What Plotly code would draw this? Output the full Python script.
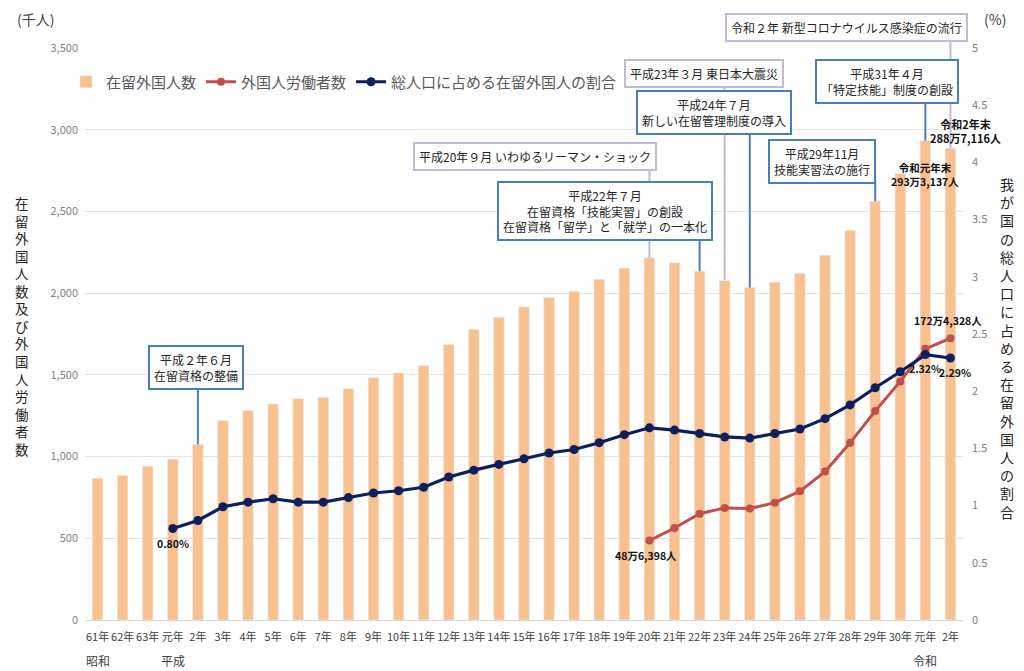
import plotly.graph_objects as go

# ---------------- data ----------------
period_labels = ["61年", "62年", "63年", "元年"] + [f"{i}年" for i in range(2, 31)] + ["元年", "2年"]
era_labels = ["昭和", "平成", "令和"]
era_index = [0, 3, 33]

residents = [867, 884, 941, 984, 1075, 1219, 1282, 1321, 1354, 1362, 1415, 1483, 1512, 1556,
             1686, 1778, 1852, 1915, 1974, 2012, 2085, 2153, 2217, 2186, 2134, 2078, 2034,
             2066, 2122, 2232, 2383, 2562, 2731, 2933, 2887]
workers = [None] * 22 + [486, 563, 650, 686, 682, 718, 788, 908, 1084, 1279, 1460, 1659, 1724]
ratio = [None] * 3 + [0.80, 0.87, 0.99, 1.03, 1.06, 1.03, 1.03, 1.07, 1.11, 1.13,
                      1.16, 1.25, 1.31, 1.36, 1.41, 1.46, 1.49, 1.55, 1.62, 1.68,
                      1.66, 1.63, 1.60, 1.59, 1.63, 1.67, 1.76, 1.88, 2.03, 2.17,
                      2.32, 2.29]

left_ticks = [0, 500, 1000, 1500, 2000, 2500, 3000, 3500]
right_ticks = [0, 0.5, 1, 1.5, 2, 2.5, 3, 3.5, 4, 4.5, 5]
right_tick_text = ["0", "0.5", "1", "1.5", "2", "2.5", "3", "3.5", "4", "4.5", "5"]

events = [
    # (text, category index, style)
    ("令和２年 新型コロナウイルス感染症の流行", 34, "lav"),
    ("平成23年３月 東日本大震災", 25, "lav"),
    ("平成31年４月<br>「特定技能」制度の創設", 33, "blue"),
    ("平成24年７月<br>新しい在留管理制度の導入", 26, "blue"),
    ("平成20年９月 いわゆるリーマン・ショック", 22, "lav"),
    ("平成22年７月<br>在留資格「技能実習」の創設<br>在留資格「留学」と「就学」の一本化", 24, "blue"),
    ("平成29年11月<br>技能実習法の施行", 31, "blue"),
    ("平成２年６月<br>在留資格の整備", 4, "blue"),
]
# box centre (px) and box bottom (px) for each event -- layout only (screen coords)
event_boxes = [(846, 27, 40), (704, 74, 88), (887, 81, 100), (714, 112, 132),
               (535, 156, 170), (605, 211, 240), (822, 161, 180), (196, 368, 388)]

# ---------------- layout geometry ----------------
OFF = 8                      # page body margin
W, H = 1024 - OFF, 671 - OFF
PL, PR, PT, PB = 84.5, 963, 48, 620   # plot area in screen px
YMAX, Y2MAX = 3500, 5


def px_x(px):
    return (px - PL) / (PR - PL)


def px_y(py):
    return (PB - py) / (PB - PT)


FONT = "Noto Sans CJK JP"
BAR = "#F9C18F"
RED = "#C0504D"
NAVY = "#0C1F5E"
BLUE = "#4A7EBB"
LAV = "#C6B8DA"
GREY = "#595959"

x = list(range(len(period_labels)))

fig = go.Figure()
fig.add_trace(go.Bar(x=x, y=residents, name="在留外国人数", marker_color=BAR,
                     width=0.42, yaxis="y"))
fig.add_trace(go.Scatter(x=x, y=workers, name="外国人労働者数", mode="lines+markers",
                         line=dict(color=RED, width=3), marker=dict(size=8, color=RED),
                         yaxis="y"))
fig.add_trace(go.Scatter(x=x, y=ratio, name="総人口に占める在留外国人の割合",
                         mode="lines+markers", line=dict(color=NAVY, width=3.2),
                         marker=dict(size=9, color=NAVY), yaxis="y2"))

annotations = []
shapes = []

# event boxes and connectors
for (text, idx, style), (cx, cy, bottom) in zip(events, event_boxes):
    col = BLUE if style == "blue" else LAV
    annotations.append(dict(text=text, x=px_x(cx), y=px_y(cy), xref="paper", yref="paper",
                            showarrow=False, font=dict(family=FONT, size=12, color="#262626"),
                            bgcolor="white", bordercolor=col, borderwidth=2, borderpad=4,
                            align="center", xanchor="center", yanchor="middle"))
    shapes.append(dict(type="line", xref="x", yref="paper", x0=idx, x1=idx,
                       y0=residents[idx] / YMAX, y1=px_y(bottom),
                       line=dict(color=col, width=2), layer="above"))

lab_font = dict(family=FONT, size=10.5, color="#111111")
# data labels
annotations += [
    dict(text="<b>0.80%</b>", x=3, y=ratio[3], xref="x", yref="y2", yshift=-15, showarrow=False,
         font=lab_font),
    dict(text="<b>48万6,398人</b>", x=22, y=workers[22], xref="x", yref="y", yshift=-15,
         xshift=-3, showarrow=False, font=lab_font),
    dict(text="<b>172万4,328人</b>", x=34, y=workers[34], xref="x", yref="y", yshift=18,
         xshift=-2, showarrow=False, font=lab_font),
    dict(text="<b>2.32%</b>", x=33, y=ratio[33], xref="x", yref="y2", yshift=-14,
         showarrow=False, font=lab_font),
    dict(text="<b>2.29%</b>", x=34, y=ratio[34], xref="x", yref="y2", yshift=-14, xshift=5,
         showarrow=False, font=lab_font),
    dict(text="<b>令和2年末<br>288万7,116人</b>", x=34, y=residents[34], xref="x", yref="y",
         yanchor="bottom", yshift=0, xshift=15, showarrow=False,
         font=dict(family=FONT, size=11, color="#111111")),
    dict(text="<b>令和元年末<br>293万3,137人</b>", x=33, y=residents[33], xref="x", yref="y",
         yanchor="top", yshift=-17, showarrow=False, font=lab_font),
]

# era labels
for lab, idx in zip(era_labels, era_index):
    annotations.append(dict(text=lab, x=idx, y=px_y(660), xref="x", yref="paper",
                            showarrow=False, font=dict(family=FONT, size=12, color="#404040"),
                            xanchor="center", yanchor="middle"))

# units
annotations.append(dict(text="(千人)", x=px_x(35), y=px_y(19), xref="paper", yref="paper",
                        xanchor="center", yanchor="middle", showarrow=False,
                        font=dict(family=FONT, size=14, color="#404040")))
annotations.append(dict(text="(%)", x=px_x(995), y=px_y(19), xref="paper", yref="paper",
                        xanchor="center", yanchor="middle", showarrow=False,
                        font=dict(family=FONT, size=14, color="#404040")))

# vertical axis titles
left_title = "在留外国人数及び外国人労働者数"
right_title = "我が国の総人口に占める在留外国人の割合"
annotations.append(dict(text="<br>".join(left_title), x=px_x(21), y=px_y(326),
                        xref="paper", yref="paper", xanchor="center", yanchor="middle",
                        showarrow=False, font=dict(family=FONT, size=13.5, color="#262626")))
annotations.append(dict(text="<br>".join(right_title), x=px_x(1007), y=px_y(348),
                        xref="paper", yref="paper", xanchor="center", yanchor="middle",
                        showarrow=False, font=dict(family=FONT, size=14, color="#262626")))

fig.update_layout(
    width=W, height=H,
    margin=dict(l=PL - OFF, r=W - (PR - OFF), t=PT - OFF, b=H - (PB - OFF), autoexpand=False),
    paper_bgcolor="white", plot_bgcolor="white",
    font=dict(family=FONT, color=GREY),
    bargap=0.58,
    showlegend=True,
    legend=dict(orientation="h", xref="container", yref="container",
                x=(66 - OFF) / W, y=1 - (82 - OFF) / H, xanchor="left", yanchor="middle",
                font=dict(family=FONT, size=15, color=GREY), bgcolor="rgba(0,0,0,0)",
                itemwidth=30, tracegroupgap=0),
    xaxis=dict(tickmode="array", tickvals=x, ticktext=period_labels, range=[-0.5, 34.5],
               tickangle=0, automargin=False, ticklabelstandoff=7,
               showgrid=False, showline=True, linecolor="#D9D9D9", linewidth=1,
               ticks="", tickfont=dict(family=FONT, size=11, color="#404040"), zeroline=False),
    yaxis=dict(range=[0, YMAX], tickvals=left_ticks, tickformat=",", showgrid=True,
               automargin=False,
               gridcolor="#E3E3E3", gridwidth=1.2, zeroline=False, showline=False,
               tickfont=dict(family=FONT, size=11, color="#7F7F7F"), ticklabelstandoff=6),
    yaxis2=dict(range=[0, Y2MAX], tickvals=right_ticks, ticktext=right_tick_text,
                automargin=False,
                overlaying="y", side="right", showgrid=False, zeroline=False,
                tickfont=dict(family=FONT, size=11, color="#7F7F7F"), ticklabelstandoff=8),
    annotations=annotations,
    shapes=shapes,
)

fig.write_html("out.html")
